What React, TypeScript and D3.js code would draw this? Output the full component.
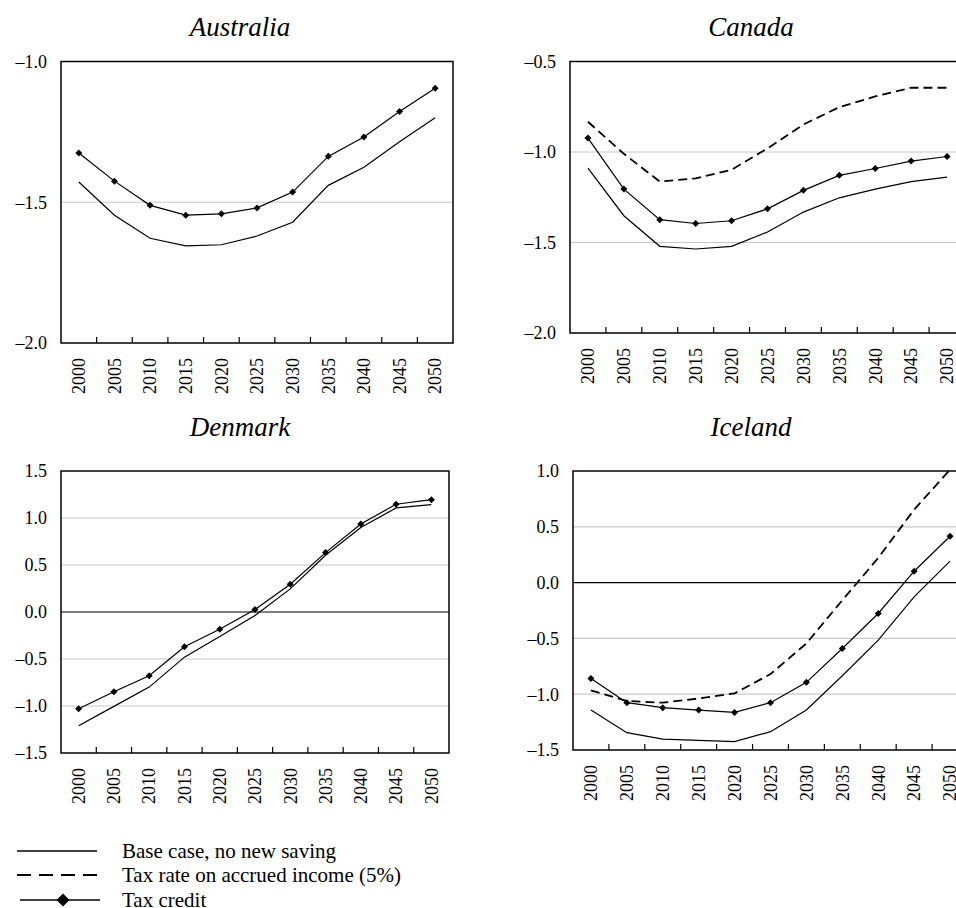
import React from "react";
import * as d3 from "d3";

const years = [2000, 2005, 2010, 2015, 2020, 2025, 2030, 2035, 2040, 2045, 2050];

const australiaBase = [-1.428, -1.546, -1.628, -1.655, -1.651, -1.62, -1.571, -1.44, -1.376, -1.285, -1.2];
const australiaCredit = [-1.325, -1.425, -1.511, -1.546, -1.541, -1.52, -1.464, -1.337, -1.268, -1.178, -1.095];

const canadaBase = [-1.089, -1.352, -1.521, -1.536, -1.521, -1.442, -1.332, -1.253, -1.205, -1.164, -1.139];
const canadaAccrued = [-0.833, -1.01, -1.163, -1.146, -1.098, -0.98, -0.848, -0.752, -0.693, -0.645, -0.645];
const canadaCredit = [-0.923, -1.205, -1.374, -1.395, -1.38, -1.314, -1.212, -1.129, -1.091, -1.05, -1.025];

const denmarkBase = [-1.21, -1.004, -0.799, -0.48, -0.261, -0.037, 0.246, 0.604, 0.898, 1.107, 1.142];
const denmarkCredit = [-1.029, -0.849, -0.679, -0.37, -0.183, 0.026, 0.296, 0.632, 0.937, 1.146, 1.195];

const icelandBase = [-1.142, -1.345, -1.402, -1.413, -1.425, -1.336, -1.142, -0.835, -0.516, -0.128, 0.192];
const icelandAccrued = [-0.966, -1.061, -1.076, -1.038, -0.993, -0.82, -0.545, -0.158, 0.221, 0.654, 1.012];
const icelandCredit = [-0.859, -1.076, -1.121, -1.142, -1.163, -1.076, -0.894, -0.59, -0.277, 0.102, 0.415];

const australiaTicks = [-2.0, -1.5, -1.0];
const canadaTicks = [-2.0, -1.5, -1.0, -0.5];
const denmarkTicks = [-1.5, -1.0, -0.5, 0.0, 0.5, 1.0, 1.5];
const icelandTicks = [-1.5, -1.0, -0.5, 0.0, 0.5, 1.0];

const legendLabels = [
  "Base case, no new saving",
  "Tax rate on accrued income (5%)",
  "Tax credit",
];

const FONT = "'Liberation Serif', 'Times New Roman', serif";

type PanelProps = {
  title: string;
  titleX: number;
  titleY: number;
  left: number;
  right: number;
  top: number;
  bottom: number;
  ticks: number[];
  base: number[];
  credit: number[];
  accrued?: number[];
};

const fmt = (v: number) => (v < -1e-9 ? "\u2013" : "") + d3.format(".1f")(Math.abs(v));

function Diamond({ x, y, r }: { x: number; y: number; r: number }) {
  return <path d={`M${x},${y - r}L${x + r},${y}L${x},${y + r}L${x - r},${y}Z`} fill="#000" />;
}

function Panel(p: PanelProps) {
  const x = d3.scaleBand<number>().domain(years).range([p.left, p.right]).paddingInner(0).paddingOuter(0);
  const y = d3.scaleLinear().domain([p.ticks[0], p.ticks[p.ticks.length - 1]]).range([p.bottom, p.top]);
  const bw = x.bandwidth();
  const cx = (yr: number) => (x(yr) as number) + bw / 2;
  const line = d3
    .line<number>()
    .x((_, i) => cx(years[i]))
    .y((d) => y(d));
  const inner = p.ticks.slice(1, -1);
  return (
    <g>
      <text x={p.titleX} y={p.titleY} textAnchor="middle" fontStyle="italic" fontSize={27} style={{ fontFamily: FONT }}>
        {p.title}
      </text>
      {inner.map((t) => (
        <line
          key={t}
          x1={p.left}
          x2={p.right}
          y1={y(t)}
          y2={y(t)}
          stroke={Math.abs(t) < 1e-9 ? "#000" : "#c8c8c8"}
          strokeWidth={1.2}
        />
      ))}
      <rect x={p.left} y={p.top} width={p.right - p.left} height={p.bottom - p.top} fill="none" stroke="#000" strokeWidth={1.5} />
      {years.slice(1).map((yr) => (
        <line key={yr} x1={x(yr)} x2={x(yr)} y1={p.bottom} y2={p.bottom - 6} stroke="#000" strokeWidth={1.2} />
      ))}
      {p.ticks.map((t) => (
        <text key={t} x={p.left - 14} y={y(t)} dy="0.35em" textAnchor="end" fontSize={18} style={{ fontFamily: FONT }}>
          {fmt(t)}
        </text>
      ))}
      {years.map((yr) => (
        <text
          key={yr}
          transform={`translate(${cx(yr)},${p.bottom + 15}) rotate(-90)`}
          dy="0.35em"
          textAnchor="end"
          fontSize={18}
          style={{ fontFamily: FONT }}
        >
          {yr}
        </text>
      ))}
      <path d={line(p.base) || ""} fill="none" stroke="#000" strokeWidth={1.2} />
      {p.accrued && (
        <path d={line(p.accrued) || ""} fill="none" stroke="#000" strokeWidth={1.8} strokeDasharray="9,5" />
      )}
      <path d={line(p.credit) || ""} fill="none" stroke="#000" strokeWidth={1.2} />
      {p.credit.map((v, i) => (
        <Diamond key={i} x={cx(years[i])} y={y(v)} r={3.5} />
      ))}
    </g>
  );
}

export default function App() {
  const legendY = [851, 875, 900];
  return (
    <svg
      width={956}
      height={908}
      style={{ position: "absolute", left: 0, top: 0, background: "#fff", fontFamily: FONT }}
    >
      <rect width={956} height={908} fill="#fff" />
      <Panel
        title="Australia"
        titleX={240}
        titleY={36}
        left={61}
        right={453}
        top={61.5}
        bottom={343}
        ticks={australiaTicks}
        base={australiaBase}
        credit={australiaCredit}
      />
      <Panel
        title="Canada"
        titleX={751}
        titleY={36}
        left={570}
        right={965}
        top={61.5}
        bottom={333}
        ticks={canadaTicks}
        base={canadaBase}
        credit={canadaCredit}
        accrued={canadaAccrued}
      />
      <Panel
        title="Denmark"
        titleX={240}
        titleY={436}
        left={61}
        right={449}
        top={471}
        bottom={753}
        ticks={denmarkTicks}
        base={denmarkBase}
        credit={denmarkCredit}
      />
      <Panel
        title="Iceland"
        titleX={751}
        titleY={436}
        left={573}
        right={968}
        top={471}
        bottom={750}
        ticks={icelandTicks}
        base={icelandBase}
        credit={icelandCredit}
        accrued={icelandAccrued}
      />
      <g>
        <line x1={17} x2={97} y1={legendY[0]} y2={legendY[0]} stroke="#000" strokeWidth={1.5} />
        <line x1={17} x2={97} y1={legendY[1]} y2={legendY[1]} stroke="#000" strokeWidth={1.8} strokeDasharray="14,8" />
        <line x1={20} x2={100} y1={legendY[2]} y2={legendY[2]} stroke="#000" strokeWidth={1.5} />
        <Diamond x={63} y={legendY[2]} r={6.5} />
        {legendLabels.map((l, i) => (
          <text key={l} x={122} y={legendY[i]} dy="0.33em" fontSize={21} style={{ fontFamily: FONT }}>
            {l}
          </text>
        ))}
      </g>
    </svg>
  );
}
